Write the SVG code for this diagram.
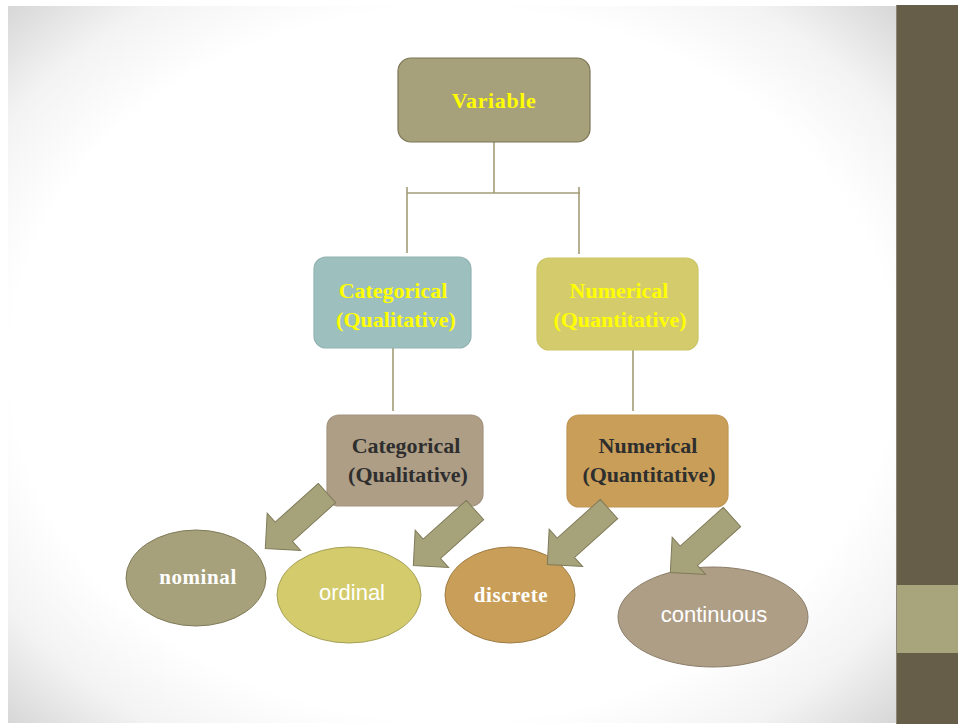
<svg xmlns="http://www.w3.org/2000/svg" width="958" height="724" viewBox="0 0 958 724">
  <defs>
    <radialGradient id="bg" cx="50%" cy="50%" r="71%" gradientUnits="objectBoundingBox">
      <stop offset="0" stop-color="#ffffff"/>
      <stop offset="0.7" stop-color="#ffffff"/>
      <stop offset="0.85" stop-color="#f3f3f3"/>
      <stop offset="1" stop-color="#d6d6d6"/>
    </radialGradient>
    <path id="arrow" d="M0,-13 L58,-13 L58,-25 L83,0 L58,25 L58,13 L0,13 Z"/>
  </defs>
  <style>
    .box { stroke-width: 1.2; }
    .bt { font-family: "Liberation Serif", "Times New Roman", serif; font-weight: bold; font-size: 22px; text-anchor: middle; }
    .yel { fill: #ffff00; }
    .dark { fill: #2e2e2e; }
    .et-serif { font-family: "Liberation Serif", "Times New Roman", serif; font-weight: bold; font-size: 21px; fill: #ffffff; text-anchor: middle; letter-spacing: 0.6px; }
    .et-sans { font-family: "Liberation Sans", Arial, sans-serif; font-size: 22px; fill: #ffffff; text-anchor: middle; }
    .conn { stroke: #a29c76; stroke-width: 1.6; fill: none; }
    .arr { fill: #a6a27a; stroke: #7f7a58; stroke-width: 1; }
    .ell { stroke-width: 1; }
  </style>

  <!-- background -->
  <rect x="0" y="0" width="958" height="724" fill="#ffffff"/>
  <rect x="8" y="6" width="888" height="717" fill="url(#bg)"/>
  <rect x="896" y="5" width="62" height="719" fill="#665e48"/>
  <rect x="896" y="585" width="62" height="68" fill="#a8a47c"/>
  <line x1="896.5" y1="5" x2="896.5" y2="724" stroke="#8c8677" stroke-width="1"/>

  <!-- connectors -->
  <g id="connectors">
    <line class="conn" x1="494" y1="142" x2="494" y2="193"/>
    <line class="conn" x1="407" y1="193" x2="580" y2="193"/>
    <line class="conn" x1="407" y1="187" x2="407" y2="253"/>
    <line class="conn" x1="579" y1="187" x2="579" y2="254"/>
    <line class="conn" x1="393" y1="348" x2="393" y2="411"/>
    <line class="conn" x1="633" y1="350" x2="633" y2="411"/>
  </g>

  <!-- nodes -->
  <g id="variable">
    <rect class="box" x="398" y="58" width="192" height="84" rx="13" fill="#a7a17b" stroke="#7c7556"/>
    <text class="bt yel" x="494" y="108" font-size="25" letter-spacing="0.6">Variable</text>
  </g>

  <g id="categorical-top">
    <rect class="box" x="314" y="257" width="157" height="91" rx="12" fill="#9dbfbe" stroke="#92b3b2"/>
    <text class="bt yel" x="393" y="298">Categorical</text>
    <text class="bt yel" x="396" y="327">(Qualitative)</text>
  </g>

  <g id="numerical-top">
    <rect class="box" x="537" y="258" width="161" height="92" rx="12" fill="#d4cc6c" stroke="#cbc366"/>
    <text class="bt yel" x="619" y="298">Numerical</text>
    <text class="bt yel" x="620" y="327">(Quantitative)</text>
  </g>

  <g id="categorical-bottom">
    <rect class="box" x="327" y="415" width="156" height="91" rx="12" fill="#ae9e86" stroke="#a39480"/>
    <text class="bt dark" x="406" y="453">Categorical</text>
    <text class="bt dark" x="408" y="482">(Qualitative)</text>
  </g>

  <g id="numerical-bottom">
    <rect class="box" x="567" y="415" width="161" height="92" rx="12" fill="#c99e58" stroke="#c09552"/>
    <text class="bt dark" x="648" y="453">Numerical</text>
    <text class="bt dark" x="649" y="482">(Quantitative)</text>
  </g>

  <g id="nominal">
    <ellipse class="ell" cx="196" cy="578" rx="70" ry="48" fill="#a7a17b" stroke="#7f7a58"/>
    <text class="et-serif" x="198" y="584">nominal</text>
  </g>

  <g id="ordinal">
    <ellipse class="ell" cx="349" cy="595" rx="72" ry="48" fill="#d4cc6c" stroke="#a59f55"/>
    <text class="et-sans" x="352" y="600">ordinal</text>
  </g>

  <g id="discrete">
    <ellipse class="ell" cx="510" cy="595" rx="65" ry="48" fill="#c99e58" stroke="#9e7c45"/>
    <text class="et-serif" x="511" y="602">discrete</text>
  </g>

  <g id="continuous">
    <ellipse class="ell" cx="713" cy="617" rx="95" ry="50" fill="#ae9e86" stroke="#8a7d69"/>
    <text class="et-sans" x="714" y="622">continuous</text>
  </g>

  <!-- block arrows -->
  <g id="arrows">
    <use href="#arrow" class="arr" transform="translate(327,493) rotate(138)"/>
    <use href="#arrow" class="arr" transform="translate(475,510) rotate(138)"/>
    <use href="#arrow" class="arr" transform="translate(609,509) rotate(138)"/>
    <use href="#arrow" class="arr" transform="translate(732,517) rotate(138)"/>
  </g>
</svg>
